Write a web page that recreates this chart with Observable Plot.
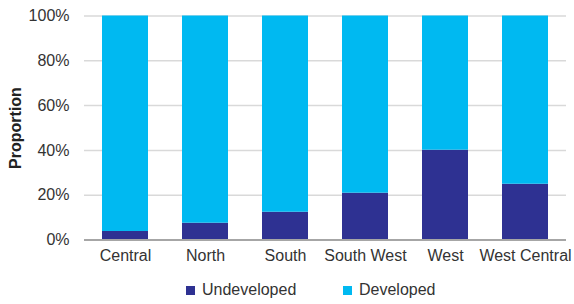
<!DOCTYPE html>
<html>
<head>
<meta charset="utf-8">
<script src="https://cdn.jsdelivr.net/npm/d3@7"></script>
<script src="https://cdn.jsdelivr.net/npm/@observablehq/plot@0.6"></script>
<style>
  html, body { margin: 0; padding: 0; background: #fff; }
  body { width: 574px; height: 304px; overflow: hidden; font-family: "Liberation Sans", Arial, sans-serif; }
  #legend { position: relative; height: 34px; font-size: 16px; color: #333; }
  .item { position: absolute; top: 11px; display: flex; align-items: center; }
  .sw { width: 9px; height: 9px; margin-right: 7px; }
</style>
</head>
<body>
<div id="chart"></div>
<div id="legend"></div>
<script>
const regions = ["Central", "North", "South", "South West", "West", "West Central"];
const undeveloped = [0.038, 0.075, 0.124, 0.209, 0.401, 0.249];
const series = ["Undeveloped", "Developed"];
const colors = ["#2E3192", "#00B9F1"];
const yTicks = [0, 0.2, 0.4, 0.6, 0.8, 1.0];

const data = [];
regions.forEach((r, i) => {
  data.push({region: r, series: "Undeveloped", value: undeveloped[i]});
  data.push({region: r, series: "Developed", value: 1 - undeveloped[i]});
});

const chart = Plot.plot({
  width: 574,
  height: 270,
  marginLeft: 84,
  marginRight: 8,
  marginTop: 15.5,
  marginBottom: 30.5,
  style: {fontFamily: "'Liberation Sans', Arial, sans-serif", fontSize: "16px", color: "#333"},
  x: {domain: regions, paddingInner: 0.427, paddingOuter: 0.212, label: null, tickSize: 0, tickPadding: 10},
  y: {domain: [0, 1], ticks: yTicks, tickFormat: d3.format(".0%"), label: null, tickSize: 0, tickPadding: 15},
  color: {domain: series, range: colors},
  marks: [
    Plot.ruleY(yTicks.slice(1), {stroke: "#d9d9d9", strokeWidth: 1.5}),
    Plot.barY(data, Plot.stackY({x: "region", y: "value", fill: "series", order: series})),
    Plot.ruleY([0], {stroke: "#a6a6a6", strokeWidth: 2})
  ]
});
document.getElementById("chart").appendChild(chart);

// Y axis title
const svg = d3.select(chart);
svg.append("text")
  .attr("transform", "translate(21,128) rotate(-90)")
  .attr("text-anchor", "middle")
  .attr("font-weight", "bold")
  .attr("font-size", 16)
  .attr("fill", "#222")
  .text("Proportion");

const legend = document.getElementById("legend");
const lx = [186, 343];
series.forEach((s, i) => {
  const it = document.createElement("div");
  it.className = "item";
  it.style.left = lx[i] + "px";
  it.innerHTML = `<div class="sw" style="background:${colors[i]}"></div><span>${s}</span>`;
  legend.appendChild(it);
});
</script>
</body>
</html>
